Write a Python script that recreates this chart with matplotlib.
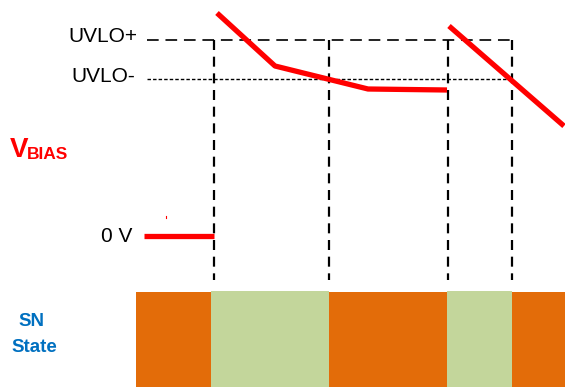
import matplotlib
matplotlib.use('Agg')
import matplotlib.pyplot as plt

# canvas is measured in pixels of the original drawing (y grows downward)
W, H = 565, 387

# threshold levels
uvlo_plus_y = 40
uvlo_minus_y = 79
zero_v_y = 236

# event times (vertical dashed markers)
event_x = [214, 329, 448, 512]
marker_bottom = 280

# VBIAS trace, drawn as separate pieces
vbias_zero_x = [144, 214]
vbias_seg1_x = [217, 275, 368, 447]
vbias_seg1_y = [13, 66, 89, 90]
vbias_seg2_x = [449, 564]
vbias_seg2_y = [26, 126]

# SN state band
state_edges = [136, 211, 329, 447, 512, 565]
state_names = ["off", "on", "off", "on", "off"]
state_colors = {"off": "#E36C09", "on": "#C3D69B"}
state_top = {"off": 292, "on": 291}

fig = plt.figure(figsize=(W / 100, H / 100), dpi=100)
ax = fig.add_axes([0, 0, 1, 1])
ax.set_xlim(0, W)
ax.set_ylim(H, 0)
ax.axis('off')

plt.rcParams['font.family'] = ['Liberation Sans', 'DejaVu Sans']

# threshold lines
ax.plot([147, event_x[-1]], [uvlo_plus_y, uvlo_plus_y], color='#222222',
        lw=1.4, dashes=(6, 3.5))
ax.plot([147, event_x[-1]], [uvlo_minus_y, uvlo_minus_y], color='black',
        lw=1.0, dashes=(2.5, 1.5))

# vertical markers
for x in event_x:
    ax.plot([x, x], [uvlo_plus_y, marker_bottom], color='black',
            lw=1.6, dashes=(4.5, 3))

# VBIAS trace
ax.plot(vbias_zero_x, [zero_v_y, zero_v_y], color='#FF0000', lw=3.8,
        solid_capstyle='butt')
ax.plot(vbias_seg1_x, vbias_seg1_y, color='#FF0000', lw=3.8,
        solid_capstyle='butt')
ax.plot(vbias_seg2_x, vbias_seg2_y, color='#FF0000', lw=3.8,
        solid_capstyle='butt')
ax.plot([166, 166], [216, 218], color='#FF0000', lw=0.8)

# state band
for i, name in enumerate(state_names):
    x0, x1 = state_edges[i], state_edges[i + 1]
    ax.fill_between([x0, x1], state_top[name], H, color=state_colors[name],
                    lw=0)

# labels
ax.text(137, 37, "UVLO+", ha='right', va='center', fontsize=15)
ax.text(135, 77, "UVLO-", ha='right', va='center', fontsize=15)
ax.text(132, 236, "0 V", ha='right', va='center', fontsize=15)
ax.text(10, 157, "V", ha='left', va='baseline', fontsize=20,
        fontweight='bold', color='#FF0000')
ax.text(27, 159, "BIAS", ha='left', va='baseline', fontsize=12.5,
        fontweight='bold', color='#FF0000')
ax.text(31, 322, "SN", ha='center', va='center', fontsize=13.5,
        fontweight='bold', color='#0070C0')
ax.text(34, 348, "State", ha='center', va='center', fontsize=13.5,
        fontweight='bold', color='#0070C0')

fig.savefig("out.png", dpi=100)
